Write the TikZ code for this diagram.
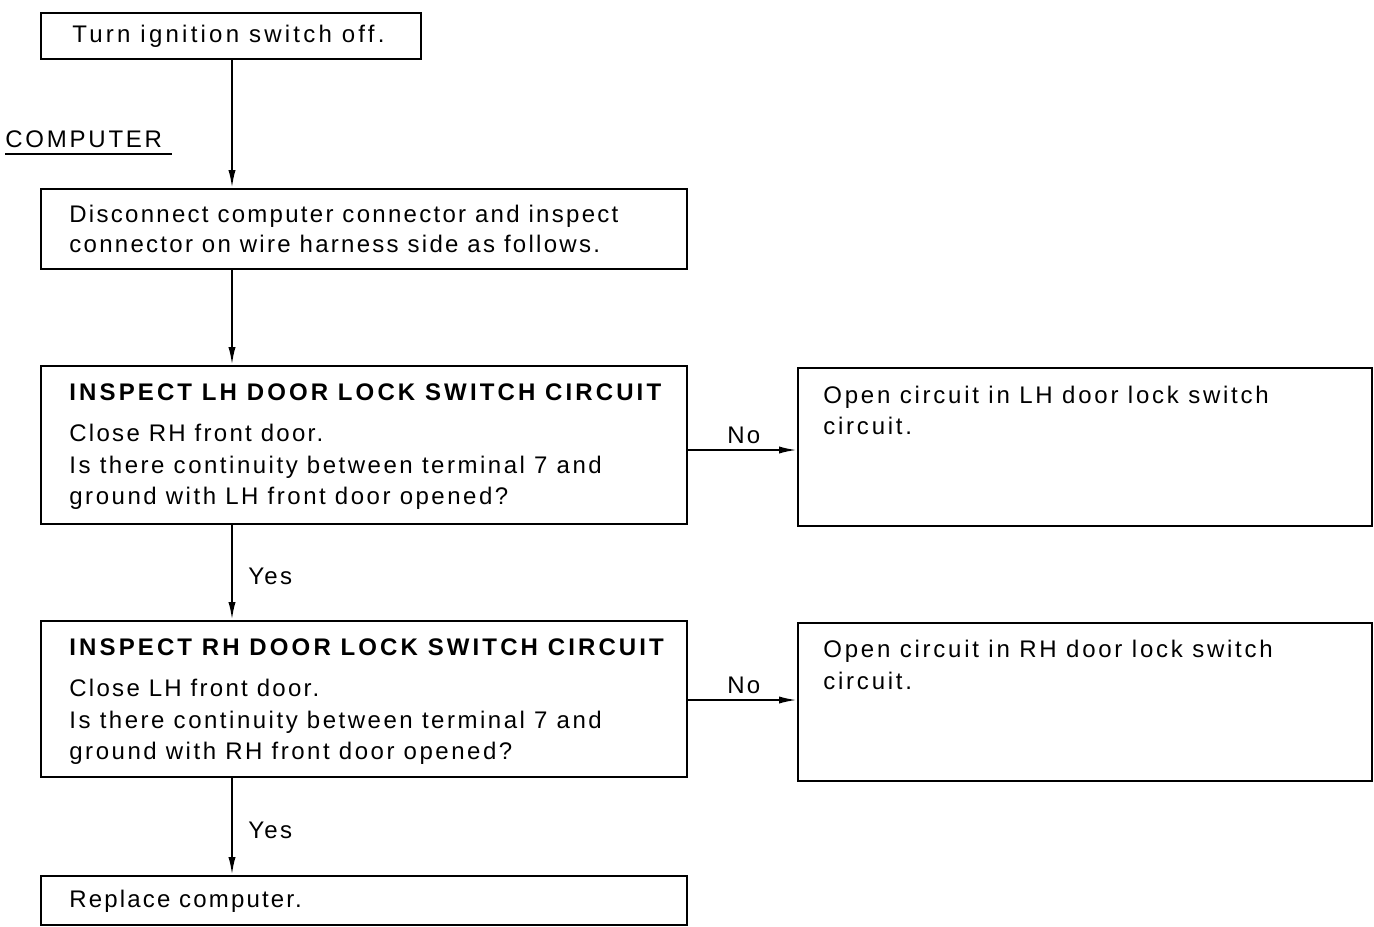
\documentclass[tikz,border=0pt]{standalone}
\usepackage{fontspec}
\setmainfont{Liberation Sans}[LetterSpace=9.5,BoldFeatures={LetterSpace=13}]
\usetikzlibrary{arrows.meta}
\begin{document}
\begin{tikzpicture}[x=0.5pt,y=-0.5pt,
  box/.style={draw,line width=1pt,rectangle,inner sep=0pt,anchor=north west},
  txt/.style={anchor=base west,inner sep=0pt,font=\fontsize{12}{15}\selectfont},
  ls/.style={txt,font=\fontsize{12}{15}\selectfont\addfontfeatures{LetterSpace=#1}},
  hd/.style={txt,font=\fontsize{12}{15}\selectfont\bfseries},
  lbl/.style={anchor=base west,inner sep=0pt,font=\fontsize{12}{15}\selectfont},
  arr/.style={line width=1pt,-{Latex[length=9pt,width=3.6pt]}}]
\useasboundingbox (0,0) rectangle (1374,926);
% boxes
\node[box,minimum width=190pt,minimum height=23pt] (b1) at (40,12) {};
\node[box,minimum width=323pt,minimum height=40pt] (b2) at (40,188) {};
\node[box,minimum width=323pt,minimum height=79pt] (b3) at (40,365) {};
\node[box,minimum width=287pt,minimum height=79pt] (b4) at (797,367) {};
\node[box,minimum width=323pt,minimum height=78pt] (b5) at (40,620) {};
\node[box,minimum width=287pt,minimum height=79pt] (b6) at (797,622) {};
\node[box,minimum width=323pt,minimum height=24.5pt] (b7) at (40,875) {};
% texts
\node[ls=13.5] (t1) at (72,42) {Turn ignition switch off.};
\node[ls=11.5] (cmp) at (5,147) {COMPUTER};
\draw[line width=1pt] (5,154) -- (172,154);
\node[txt] (t2a) at (69,222) {Disconnect computer connector and inspect};
\node[txt] (t2b) at (69,252) {connector on wire harness side as follows.};
\node[hd] (t3h) at (69,400) {INSPECT LH DOOR LOCK SWITCH CIRCUIT};
\node[txt] (t3a) at (69,441) {Close RH front door.};
\node[ls=10.5] (t3b) at (69,473) {Is there continuity between terminal 7 and};
\node[ls=10.5] (t3c) at (69,504) {ground with LH front door opened?};
\node[ls=11.5] (t4a) at (823,403) {Open circuit in LH door lock switch};
\node[ls=11.5] (t4b) at (823,434) {circuit.};
\node[hd] (t5h) at (69,655) {INSPECT RH DOOR LOCK SWITCH CIRCUIT};
\node[txt] (t5a) at (69,696) {Close LH front door.};
\node[ls=10.5] (t5b) at (69,728) {Is there continuity between terminal 7 and};
\node[ls=10.5] (t5c) at (69,759) {ground with RH front door opened?};
\node[ls=11.5] (t6a) at (823,657) {Open circuit in RH door lock switch};
\node[ls=11.5] (t6b) at (823,689) {circuit.};
\node[ls=9] (t7) at (69,907) {Replace computer.};
% connectors
\coordinate (vx) at (232,0);
\coordinate (h1) at (0,450);
\coordinate (h2) at (0,700);
\draw[arr] (b1.south -| vx) -- (b2.north -| vx);
\draw[arr] (b2.south -| vx) -- (b3.north -| vx);
\draw[arr] (b3.south -| vx) -- (b5.north -| vx);
\draw[arr] (b5.south -| vx) -- (b7.north -| vx);
\draw[arr] (b3.east |- h1) -- (b4.west |- h1);
\draw[arr] (b5.east |- h2) -- (b6.west |- h2);
\node[lbl] (y1) at (248,584) {Yes};
\node[lbl] (y2) at (248,838) {Yes};
\node[lbl] (n1) at (727,443) {No};
\node[lbl] (n2) at (727,693) {No};
\end{tikzpicture}
\end{document}
